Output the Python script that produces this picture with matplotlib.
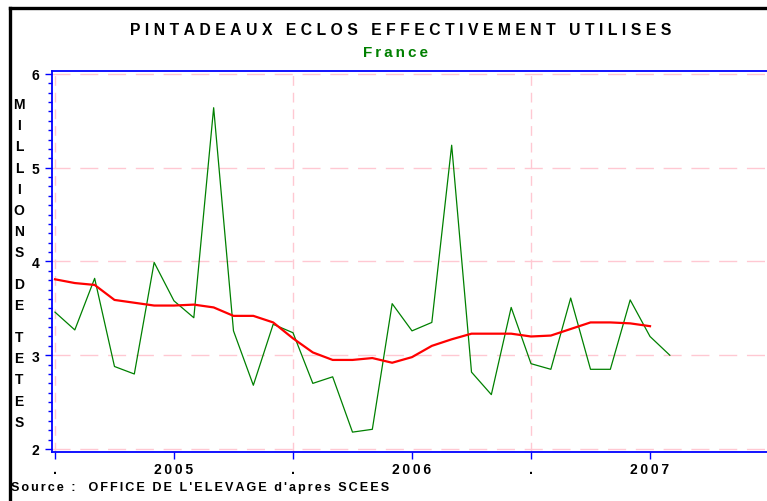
import matplotlib
matplotlib.use('Agg')
import matplotlib.pyplot as plt
import numpy as np

# monthly hatched guinea-fowl chicks (millions of heads), France
utilises = [3.46, 3.27, 3.82, 2.88, 2.80, 3.99, 3.58, 3.40, 5.64, 3.26, 2.68, 3.33,
            3.24, 2.70, 2.77, 2.18, 2.21, 3.55, 3.26, 3.35, 5.24, 2.82, 2.58, 3.51,
            2.91, 2.85, 3.61, 2.85, 2.85, 3.59, 3.20, 3.00]
# moving average (red)
moyenne = [3.81, 3.77, 3.75, 3.59, 3.56, 3.53, 3.53, 3.54, 3.51, 3.42, 3.42, 3.35,
           3.18, 3.03, 2.95, 2.95, 2.97, 2.92, 2.98, 3.10, 3.17, 3.23, 3.23, 3.23,
           3.20, 3.21, 3.28, 3.35, 3.35, 3.34, 3.31]
xtick_pos = [0, 6, 12, 18, 24, 30]
xtick_labels = ['.', '2005', '.', '2006', '.', '2007']
ytick_pos = [2, 3, 4, 5, 6]

W, H = 767, 502
fig = plt.figure(figsize=(W / 100, H / 100), dpi=100)
fnt = ['Liberation Sans', 'DejaVu Sans']

def spaced(s, sep='\u2009'):
    return sep.join(s)

# black frame (cut on right/bottom)
fig.add_artist(plt.Line2D([10 / W, 10 / W], [0, 1 - 9 / H], color='black', lw=2.4,
                          transform=fig.transFigure))
fig.add_artist(plt.Line2D([10 / W, 1], [1 - 9 / H, 1 - 9 / H], color='black', lw=2.4,
                          transform=fig.transFigure))

ax = fig.add_axes([52 / W, 1 - 453 / H, (772 - 52) / W, (453 - 71.5) / H])
x = np.arange(len(utilises))
ax.plot(x, utilises, color='#008000', lw=0.9)
ax.plot(np.arange(len(moyenne)), moyenne, color='#ff0000', lw=1.6)

ax.set_xlim(-0.15, 36.15)
ax.set_ylim(1.968, 6.037)

for v in ytick_pos:
    ax.axhline(v, color='#ffc8d2', lw=1.0, dashes=(13, 7), zorder=0)
for v in [0, 12, 24]:
    ax.axvline(v, color='#ffc8d2', lw=1.0, dashes=(7, 5), zorder=0)

for side in ['left', 'top', 'bottom']:
    ax.spines[side].set_color('#0000ff')
    ax.spines[side].set_linewidth(1.3)
ax.spines['right'].set_visible(False)

ax.set_yticks(ytick_pos)
ax.set_yticks(np.arange(2, 6.01, 0.1), minor=True)
ax.set_yticklabels([str(v) for v in ytick_pos], fontsize=10, fontweight='bold', family=fnt)
ax.set_xticks(xtick_pos)
ax.set_xticklabels([spaced(t) for t in xtick_labels], fontsize=10, fontweight='bold', family=fnt)
ax.tick_params(axis='y', which='major', length=5, color='#0000ff', width=1, pad=4)
ax.tick_params(axis='y', which='minor', length=3, color='#0000ff', width=1)
ax.tick_params(axis='x', which='major', length=5, color='#0000ff', width=1, pad=2)

fig.text(401 / W, 1 - 31 / H, spaced('PINTADEAUX ECLOS EFFECTIVEMENT UTILISES', '\u2009\u200a'),
         ha='center', va='center', fontsize=11.3, fontweight='bold', family=fnt)
fig.text(395 / W, 1 - 53 / H, spaced('France'), ha='center', va='center',
         fontsize=11, fontweight='bold', color='#008000', family=fnt)

# stacked vertical y label
y = 105
for ch in 'MILLIONS DE TETES':
    if ch == ' ':
        y += 10.5
        continue
    fig.text(19 / W, 1 - y / H, ch, ha='center', va='center', fontsize=10,
             fontweight='bold', family=fnt)
    y += 21.2

fig.text(11 / W, 1 - 488 / H, spaced("Source :  OFFICE DE L'ELEVAGE d'apres SCEES", '\u200a\u200a'),
         ha='left', va='center', fontsize=9.1, fontweight='bold', family=fnt)

fig.savefig('out.png', dpi=100)
